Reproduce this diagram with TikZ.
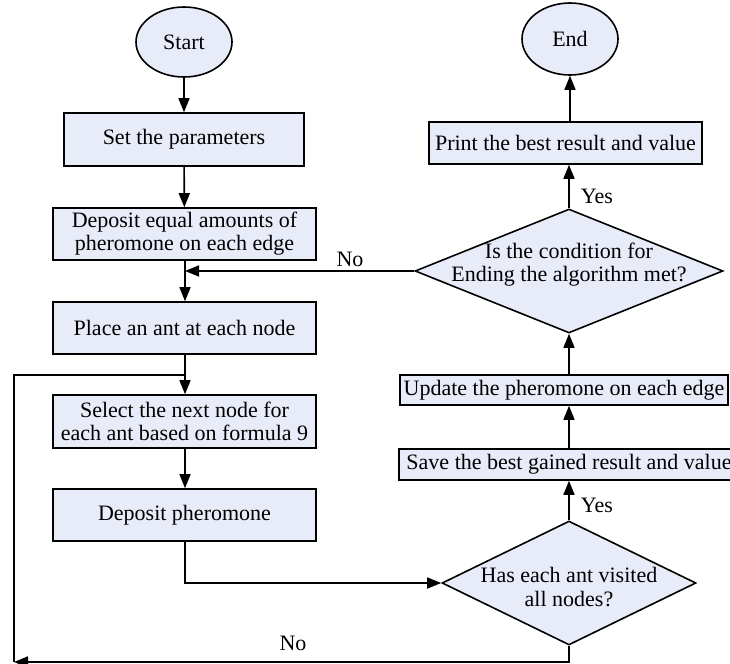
\documentclass[tikz,border=0pt]{standalone}
\usepackage{fontspec}
\setmainfont{Liberation Serif}
\usetikzlibrary{shapes.geometric, arrows.meta}
\definecolor{boxfill}{RGB}{232,236,248}
\tikzset{>={Triangle[length=7pt,width=5.5pt]}}
\tikzset{
  every node/.style={font=\fontsize{11}{11.6}\selectfont},
  procbox/.style={draw, fill=boxfill, line width=0.8pt, inner sep=0pt, align=center,
    minimum width=131.5pt, minimum height=26pt},
  termnode/.style={draw, fill=boxfill, line width=0.8pt, ellipse, inner sep=0pt,
    minimum width=48pt, minimum height=35pt},
  decision/.style={draw, fill=boxfill, line width=0.8pt, diamond, inner sep=0pt},
  flow/.style={->, line width=0.8pt},
  plain/.style={line width=0.8pt}
}

\begin{document}
\begin{tikzpicture}[x=0.5pt, y=-0.5pt]
    \clip (0,0) rectangle (730,664);
    % left column
    \node[termnode] (start) at (184,42) {Start};
    \node[procbox, minimum width=120pt, minimum height=26.5pt] (set) at (184,139.5) {Set the parameters};
    \node[procbox] (dep) at (184.5,234) {Deposit equal amounts of\\pheromone on each edge};
    \node[procbox] (place) at (184.5,328) {Place an ant at each node};
    \node[procbox, minimum height=26.5pt] (select) at (184.5,421.5) {Select the next node for\\each ant based on formula 9};
    \node[procbox] (depph) at (184.5,515) {Deposit pheromone};
    % right column
    \node[decision, minimum width=127pt, minimum height=62pt] (has) at (569,583) {};
    \node[align=center] at (569,587) {Has each ant visited\\all nodes?};
    \node[procbox, minimum width=170pt, minimum height=15.5pt] (save) at (569,464.5) {Save the best gained result and value};
    \node[procbox, minimum width=164pt, minimum height=15pt] (update) at (564,390) {Update the pheromone on each edge};
    \node[decision, minimum width=154pt, minimum height=62pt] (is) at (569,271) {};
    \node[align=center] at (569,265) {Is the condition for\\Ending the algorithm met?};
    \node[procbox, minimum width=136.5pt, minimum height=21pt] (print) at (565.5,143) {Print the best result and value};
    \node[termnode, minimum height=36pt] (end) at (570,39) {End};
    % junctions
    \coordinate (j1) at (185,271);
    \coordinate (j2) at (185,375);
    \coordinate (c1) at (14,662);
    % connectors
    \draw[flow] (start) -- (set);
    \draw[flow] (set) -- (dep);
    \draw[flow] (dep.south -| j1) -- (place.north -| j1);
    \draw[flow] (place.south -| j2) -- (select.north -| j2);
    \draw[flow] (select.south -| j2) -- (depph.north -| j2);
    \draw[flow] (depph.south -| j2) |- (has.west);
    \draw[flow] (has.south) |- (c1);
    \draw[plain] (c1) |- (j2);
    \draw[flow] (has.north) -- (has.north |- save.south);
    \draw[flow] (save.north -| has.north) -- (update.south -| has.north);
    \draw[flow] (update.north -| has.north) -- (is.south);
    \draw[flow] (is.west) -- (j1);
    \draw[flow] (is.north) -- (is.north |- print.south);
    \draw[flow] (print.north -| end) -- (end.south);
    % labels
    \node at (350,259) {No};
    \node at (293,643) {No};
    \node at (597,196) {Yes};
    \node at (597,505) {Yes};
\end{tikzpicture}
\end{document}
